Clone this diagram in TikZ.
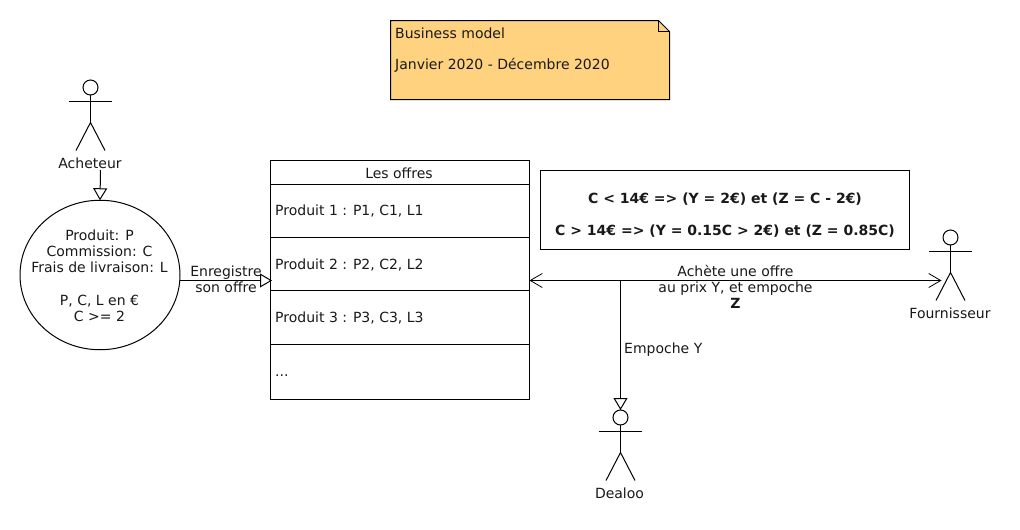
\documentclass[tikz,border=0pt]{standalone}
\usepackage{fontspec}
\setmainfont{DejaVu Sans}
\usetikzlibrary{arrows.meta,shapes.geometric}
\definecolor{noteorange}{HTML}{FFD27F}
\tikzset{
  ln/.style={draw=black,line width=1pt},
  txt/.style={font=\fontsize{14}{16.2}\selectfont,inner sep=0pt,align=center,text=black!90},
  row/.style={ln,minimum width=259pt,inner sep=0pt,anchor=north west,outer sep=0pt},
  rowtxt/.style={txt,anchor=west},
  hollow/.style={-{Triangle[open,fill=white,length=12pt,width=14pt]}},
  openarr/.style={{Straight Barb[length=12pt,width=14pt,line width=0.8pt]}-{Straight Barb[length=12pt,width=14pt,line width=0.8pt]}},
}
\newcommand{\stick}[2]{%
  \begin{scope}[shift={(#1)}]
    \node[circle,ln,minimum size=15pt,inner sep=0pt,outer sep=0pt] (#2head) at (0,0) {};
    \coordinate (#2hip) at (0,35);
    \draw[line width=1pt] (#2head.south) -- (#2hip);
    \draw[line width=1pt] (-21.5,14) -- (21.5,14);
    \draw[line width=1pt] (-14.5,63) -- (#2hip) -- (14.5,63);
  \end{scope}}
\begin{document}
\begin{tikzpicture}[x=1pt,y=-1pt]
\useasboundingbox (0,0) rectangle (1020,530);
\fill[white] (0,0) rectangle (1020,530);
% note
\draw[ln,fill=noteorange] (390.5,20.5) -- (658.5,20.5) -- (669.5,31.5) -- (669.5,99.5) -- (390.5,99.5) -- cycle;
\draw[ln] (658.5,20.5) -- (658.5,31.5) -- (669.5,31.5);
\node[txt,anchor=west] (noteone) at (395,33) {Business model};
\node[txt,anchor=west] (notetwo) at (395,65) {Janvier 2020 - Décembre 2020};
% actors
\stick{90.5,87.5}{ach}
\node[txt] (achlabel) at (90,163.5) {Acheteur};
\stick{950.5,237.5}{four}
\node[txt] (fourlabel) at (950,313.5) {Fournisseur};
\stick{620.5,417.5}{dea}
\node[txt] (dealabel) at (619.5,493.5) {Dealoo};
% circle
\node[ellipse,ln,minimum width=160pt,minimum height=149.5pt,inner sep=0pt,outer sep=0pt] (offre) at (100,275) {};
\node[txt] (offretxt) at (99.5,275.5) {Produit: P\\Commission: C\\Frais de livraison: L\\[16.2pt]P, C, L en €\\C >= 2};
% table
\node[row,minimum height=24pt] (thead) at (270.5,160.5) {};
\node[txt] (theadtxt) at (399,173) {Les offres};
\node[row,minimum height=53pt] (r1) at (270.5,184.5) {};
\node[row,minimum height=53pt] (r2) at (270.5,237.5) {};
\node[row,minimum height=54pt] (r3) at (270.5,290.5) {};
\node[row,minimum height=55pt] (r4) at (270.5,344.5) {};
\node[rowtxt] (r1txt) at (275,210.5) {Produit 1 : P1, C1, L1};
\node[rowtxt] (r2txt) at (275,265) {Produit 2 : P2, C2, L2};
\node[rowtxt] (r3txt) at (275,317.5) {Produit 3 : P3, C3, L3};
\node[rowtxt] (r4txt) at (275,376) {...};
% rule box
\node[ln,minimum width=369pt,minimum height=79pt,inner sep=0pt,outer sep=0pt,anchor=north west] (rules) at (540.5,170.5) {};
\node[txt,font=\fontsize{14}{16.2}\selectfont\bfseries] (ruleone) at (725,199.5) {C < 14€ => (Y = 2€) et (Z = C - 2€)};
\node[txt,font=\fontsize{14}{16.2}\selectfont\bfseries] (ruletwo) at (725,231.5) {C > 14€ => (Y = 0.15C > 2€) et (Z = 0.85C)};
% connectors
\coordinate (tablein) at (272,280.5);
\coordinate (circout) at (179.5,280.5);
\coordinate (achout) at (100.5,170);
\coordinate (tableright) at (529.5,280.5);
\coordinate (fourhand) at (941.5,280.5);
\coordinate (junction) at (620.5,280.5);
\draw[line width=1pt,hollow] (achout) -- (offre.north);
\draw[line width=1pt,hollow] (circout) -- (tablein);
\draw[line width=1pt,openarr] (tableright) -- (fourhand);
\draw[line width=1pt,hollow] (junction) -- (deahead.north);
% labels
\node[txt] (enr) at (226,279.5) {Enregistre\\son offre};
\node[txt,anchor=west] (emp) at (624,350) {Empoche Y};
\node[txt] (ach) at (735.5,287) {Achète une offre\\au prix Y, et empoche\\\textbf{Z}};
\end{tikzpicture}
\end{document}
